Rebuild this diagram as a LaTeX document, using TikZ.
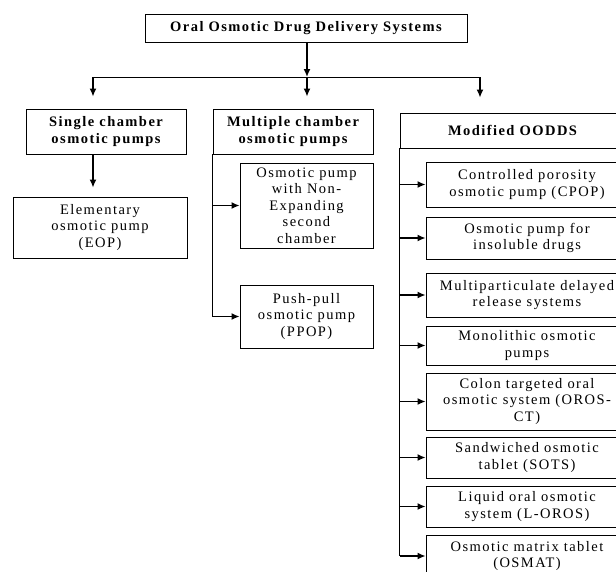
\documentclass[tikz,border=0pt]{standalone}
\usepackage{fontspec}
\setmainfont{Liberation Serif}[LetterSpace=10]
\usetikzlibrary{arrows.meta}
\tikzset{
  box/.style={draw, line width=0.8pt, align=center, inner sep=0pt,
    font=\fontsize{14.5}{16.5}\selectfont},
  headbox/.style={box, font=\bfseries\fontsize{14.5}{17}\selectfont},
  arr/.style={-{Latex[length=8pt,width=7pt]}, line width=1.5pt},
  trunk/.style={line width=1pt},
}
\begin{document}
\begin{tikzpicture}[x=1pt, y=-1pt]
  \path[use as bounding box, clip] (0,0) rectangle (616,571);

  \node[headbox, minimum width=322pt, minimum height=28pt] (root) at (306,28) {Oral Osmotic Drug Delivery Systems};

  \node[headbox, minimum width=160pt, minimum height=45pt] (single) at (106,131.5) {Single chamber\\osmotic pumps};
  \node[box, minimum width=174pt, minimum height=61pt] (eop) at (100,227.5) {Elementary\\osmotic pump\\(EOP)};

  \node[headbox, minimum width=160pt, minimum height=45pt] (multi) at (293,131.5) {Multiple chamber\\osmotic pumps};
  \node[box, minimum width=133pt, minimum height=85pt] (nonexp) at (306.5,205.5) {Osmotic pump\\with Non-\\Expanding\\second\\chamber};
  \node[box, minimum width=133pt, minimum height=63pt] (ppop) at (306.5,316.5) {Push-pull\\osmotic pump\\(PPOP)};

  \node[headbox, minimum width=225pt, minimum height=35pt] (modif) at (512.5,130.5) {Modified OODDS};
  \node[box, minimum width=202pt, minimum height=45pt] (cpop) at (527,184.5) {Controlled porosity\\osmotic pump (CPOP)};
  \node[box, minimum width=202pt, minimum height=42pt] (insol) at (527,238) {Osmotic pump for\\insoluble drugs};
  \node[box, minimum width=202pt, minimum height=44pt] (multip) at (527,295) {Multiparticulate delayed\\release systems};
  \node[box, minimum width=202pt, minimum height=39pt] (mono) at (527,345.5) {Monolithic osmotic\\pumps};
  \node[box, minimum width=202pt, minimum height=57pt] (colon) at (527,401.5) {Colon targeted oral\\osmotic system (OROS-\\CT)};
  \node[box, minimum width=202pt, minimum height=41pt] (sand) at (527,457.5) {Sandwiched osmotic\\tablet (SOTS)};
  \node[box, minimum width=202pt, minimum height=41pt] (liquid) at (527,506.5) {Liquid oral osmotic\\system (L-OROS)};
  \node[box, minimum width=202pt, minimum height=42pt] (osmat) at (527,556) {Osmotic matrix tablet\\(OSMAT)};

  % tree from the top box
  \coordinate (hl) at (93,77);
  \coordinate (hm) at (307,77);
  \coordinate (hr) at (480,77);
  \draw[arr] (root.south -| hm) -- (hm);
  \draw[trunk] (hl) -- (hr);
  \draw[arr, shorten >=12pt] (hl) -- (hl |- single.north);
  \draw[arr, shorten >=12pt] (hm) -- (hm |- multi.north);
  \draw[arr, shorten >=15pt] (hr) -- (hr |- modif.north);

  \draw[arr, shorten >=9pt] (single.south -| hl) -- (eop.north -| hl);

  \draw[arr] (multi.south west) |- (ppop.west);
  \draw[arr] (multi.south west |- nonexp.west) -- (nonexp.west);

  \draw[trunk] (modif.south west) -- (modif.south west |- osmat.west);
  \foreach \n in {cpop,insol,multip,mono,colon,sand,liquid,osmat}
    \draw[arr] (modif.south west |- \n.west) -- (\n.west);
\end{tikzpicture}
\end{document}
